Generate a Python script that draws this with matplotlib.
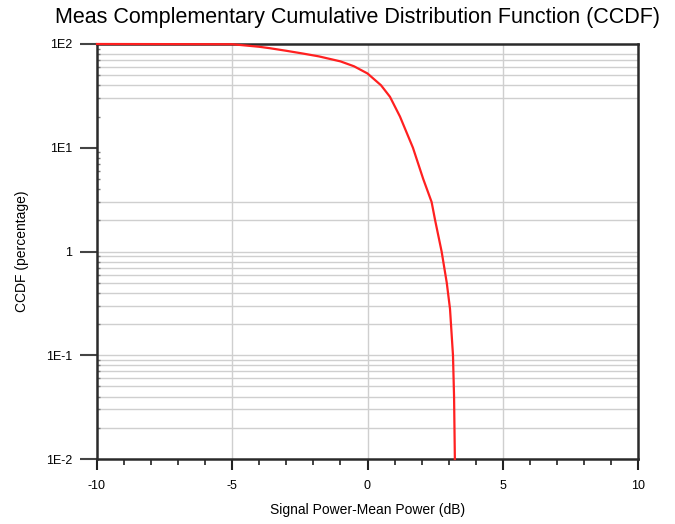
import numpy as np
from matplotlib import pyplot as plt
from matplotlib.ticker import FixedLocator, NullFormatter

# CCDF curve
power_db = [-10, -5, -4, -3.6, -3.0, -2.4, -1.8, -1.0, -0.5, 0.0, 0.5, 0.83, 1.2,
            1.68, 2.06, 2.37, 2.5, 2.74, 2.93, 3.05, 3.16, 3.2, 3.23]
ccdf_pct = [100, 99.5, 94, 91, 86, 81, 76, 68, 61, 52, 40, 31, 20,
            10, 5.0, 3.0, 2.0, 1.0, 0.5, 0.28, 0.1, 0.04, 0.01]

xticks = [-10, -5, 0, 5, 10]
yticks = [1e-2, 1e-1, 1, 10, 100]
ytick_labels = ["1E-2", "1E-1", "1", "1E1", "1E2"]

# horizontal grid lines as they appear in the reference
hgrid = [30, 40, 50, 60, 70, 80, 2, 3,
         0.2, 0.3, 0.4, 0.5, 0.6, 0.7, 0.8, 0.9, 1,
         0.02, 0.03, 0.04, 0.05, 0.06, 0.07, 0.08, 0.09, 0.1]
vgrid = [-5, 0, 5]

plt.rcParams['font.family'] = ['Liberation Sans', 'DejaVu Sans']

fig = plt.figure(figsize=(6.75, 5.24), dpi=100)
ax = fig.add_axes([97/675, 1-459/524, (638-97)/675, (459-44)/524])

for h in hgrid:
	ax.axhline(h, color='#cfcfcf', lw=1.0, zorder=1)
for v in vgrid:
	ax.axvline(v, color='#cfcfcf', lw=1.0, zorder=1)

ax.plot(power_db, ccdf_pct, color='#ff2020', lw=1.6, zorder=3, clip_on=False)

ax.set_yscale('log')
ax.set_xlim(-10, 10)
ax.set_ylim(1e-2, 1e2)

ax.set_xticks(xticks)
ax.set_xticklabels([str(t) for t in xticks])
ax.xaxis.set_minor_locator(FixedLocator(np.arange(-10, 10.5, 1)))
ax.set_yticks(yticks)
ax.set_yticklabels(ytick_labels)
minors = [m * 10.0**d for d in range(-2, 2) for m in range(2, 10)]
ax.yaxis.set_minor_locator(FixedLocator(minors))
ax.yaxis.set_minor_formatter(NullFormatter())

ax.tick_params(axis='x', which='major', direction='out', length=8, width=1.5,
               color='#222222', labelsize=9, pad=7)
ax.tick_params(axis='x', which='minor', direction='out', length=4, width=1.2,
               color='#222222')
ax.tick_params(axis='y', which='major', direction='out', length=12, width=1.5,
               color='#444444', labelsize=9, pad=6)
ax.tick_params(axis='y', which='minor', direction='in', length=2, width=1,
               color='#777777')

for s in ax.spines.values():
	s.set_linewidth(1.8)
	s.set_color('#2a2a2a')

ax.set_xlabel('Signal Power-Mean Power (dB)', fontsize=10, labelpad=8)
ax.set_ylabel('CCDF (percentage)', fontsize=10, labelpad=12)
fig.text(0.529, 0.967, 'Meas Complementary Cumulative Distribution Function (CCDF)',
         ha='center', va='center', fontsize=15.5)

plt.savefig('out.png', dpi=100)
